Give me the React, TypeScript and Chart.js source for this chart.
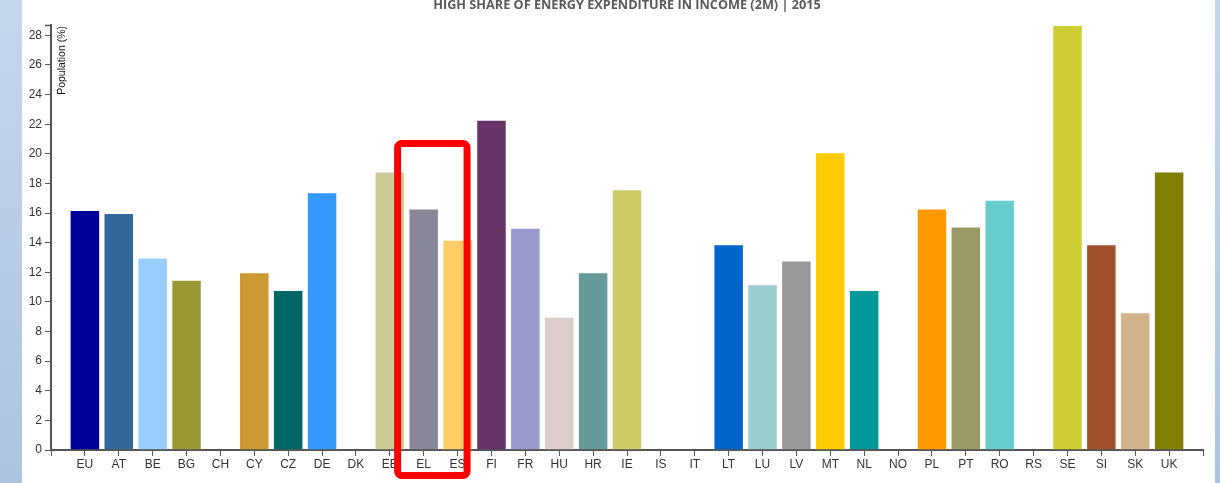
import React, { useEffect, useRef } from "react";
import { Chart, registerables } from "chart.js";

Chart.register(...registerables);

const titleText = "HIGH SHARE OF ENERGY EXPENDITURE IN INCOME (2M) | 2015";
const yAxisLabel = "Population (%)";

const categories = [
  "EU", "AT", "BE", "BG", "CH", "CY", "CZ", "DE", "DK", "EE", "EL",
  "ES", "FI", "FR", "HU", "HR", "IE", "IS", "IT", "LT", "LU", "LV",
  "MT", "NL", "NO", "PL", "PT", "RO", "RS", "SE", "SI", "SK", "UK",
];

const values: (number | null)[] = [
  16.2, 16.0, 13.0, 11.5, null, 12.0, 10.8, 17.4, null, 18.8, 16.3,
  14.2, 22.3, 15.0, 9.0, 12.0, 17.6, null, null, 13.9, 11.2, 12.8,
  20.1, 10.8, null, 16.3, 15.1, 16.9, null, 28.7, 13.9, 9.3, 18.8,
];

const barColors = [
  "#000099", "#336699", "#99ccff", "#999933", "#cccccc", "#cc9933", "#006666", "#3399ff", "#cccccc", "#cccc99", "#888899",
  "#ffcc66", "#663366", "#9999cc", "#ddcccc", "#669999", "#cccc66", "#cccccc", "#cccccc", "#0066cc", "#99cccc", "#999999",
  "#ffcc00", "#009999", "#cccccc", "#ff9900", "#999966", "#66cccc", "#cccccc", "#cccc33", "#a0522d", "#d2b48c", "#808000",
];

const yTickStep = 2;
const highlighted = ["EL", "ES"];

export default function App() {
  const canvasRef = useRef<HTMLCanvasElement | null>(null);

  useEffect(() => {
    const canvas = canvasRef.current;
    if (!canvas) return;

    const labels = ["", ...categories, ""];
    const data = [null, ...values, null];
    const colors = ["#fff", ...barColors, "#fff"];
    const yMax = Math.max(...(values.filter((v) => v !== null) as number[]));

    const overlay = {
      id: "overlay",
      afterDraw(chart: any) {
        const ctx = chart.ctx;
        const area = chart.chartArea;
        const xs = chart.scales.x;
        const ys = chart.scales.y;
        ctx.save();
        // title
        ctx.font = 'bold 12.7px "Open Sans"';
        ctx.fillStyle = "#5a5a5a";
        ctx.textAlign = "center";
        ctx.textBaseline = "alphabetic";
        ctx.fillText(titleText, (area.left + area.right) / 2, 9);
        // y axis label
        ctx.save();
        ctx.translate(area.left + 13.5, area.top + 1);
        ctx.rotate(-Math.PI / 2);
        ctx.font = '10.5px "Liberation Sans", Arial, sans-serif';
        ctx.fillStyle = "#111111";
        ctx.textAlign = "right";
        ctx.fillText(yAxisLabel, 0, 0);
        ctx.restore();
        // top outer tick of y axis
        ctx.strokeStyle = "#555555";
        ctx.lineWidth = 1.5;
        ctx.beginPath();
        ctx.moveTo(area.left - 6, area.top + 0.5);
        ctx.lineTo(area.left, area.top + 0.5);
        ctx.stroke();
        // highlight rectangle
        const i0 = labels.indexOf(highlighted[0]);
        const i1 = labels.indexOf(highlighted[1]);
        const step = xs.getPixelForValue(1) - xs.getPixelForValue(0);
        const left = xs.getPixelForValue(i0) - 0.77 * step;
        const right = xs.getPixelForValue(i1) + 0.28 * step;
        const top = ys.getPixelForValue(20.7);
        const bottom = area.bottom + 25.5;
        ctx.strokeStyle = "#ff0000";
        ctx.lineWidth = 7;
        ctx.beginPath();
        (ctx as any).roundRect(left, top, right - left, bottom - top, 4);
        ctx.stroke();
        ctx.restore();
      },
    };

    const chart = new Chart(canvas, {
      type: "bar",
      data: {
        labels,
        datasets: [
          {
            data,
            backgroundColor: colors,
            borderColor: "rgba(255,255,255,0.4)",
            borderWidth: 1,
            barPercentage: 0.9,
            categoryPercentage: 1,
          },
        ],
      },
      options: {
        animation: false,
        responsive: false,
        maintainAspectRatio: false,
        layout: { padding: { left: 0, right: 17, top: 25, bottom: 0 } },
        plugins: {
          legend: { display: false },
          tooltip: { enabled: false },
          title: { display: false },
        },
        scales: {
          x: {
            type: "category",
            offset: false,
            afterFit: (s: any) => {
              s.height = 33;
            },
            grid: {
              display: true,
              drawOnChartArea: false,
              drawTicks: true,
              tickLength: 6,
              color: "#555555",
              lineWidth: 1,
              offset: false,
            },
            border: { display: true, color: "#555555", width: 2 },
            ticks: {
              autoSkip: false,
              maxRotation: 0,
              minRotation: 0,
              padding: 1,
              color: "#333333",
              font: { family: '"Liberation Sans", Arial, sans-serif', size: 12 },
            },
          },
          y: {
            type: "linear",
            min: 0,
            max: yMax,
            afterFit: (s: any) => {
              s.width = 51;
            },
            afterBuildTicks: (s: any) => {
              const t: any[] = [];
              for (let v = 0; v <= yMax + 1e-9; v += yTickStep) t.push({ value: v });
              s.ticks = t;
            },
            grid: {
              display: true,
              drawOnChartArea: false,
              drawTicks: true,
              tickLength: 6,
              color: "#555555",
              lineWidth: 1,
            },
            border: { display: true, color: "#555555", width: 2 },
            ticks: {
              stepSize: yTickStep,
              padding: 3,
              color: "#333333",
              font: { family: '"Liberation Sans", Arial, sans-serif', size: 12 },
            },
          },
        },
      },
      plugins: [overlay],
    });

    return () => {
      chart.destroy();
    };
  }, []);

  return (
    <div
      style={{
        position: "fixed",
        left: 0,
        top: 0,
        width: 1220,
        height: 483,
        background: "#ffffff",
        overflow: "hidden",
      }}
    >
      <div
        style={{
          position: "absolute",
          left: 0,
          top: 0,
          width: 22,
          height: 483,
          background: "linear-gradient(#c6d6eb, #adc3df)",
        }}
      />
      <div
        style={{
          position: "absolute",
          left: 1215,
          top: 0,
          width: 5,
          height: 483,
          background: "linear-gradient(#c6d6eb, #adc3df)",
        }}
      />
      <canvas
        ref={canvasRef}
        width={1220}
        height={483}
        style={{ position: "absolute", left: 0, top: 0, width: 1220, height: 483 }}
      />
    </div>
  );
}
